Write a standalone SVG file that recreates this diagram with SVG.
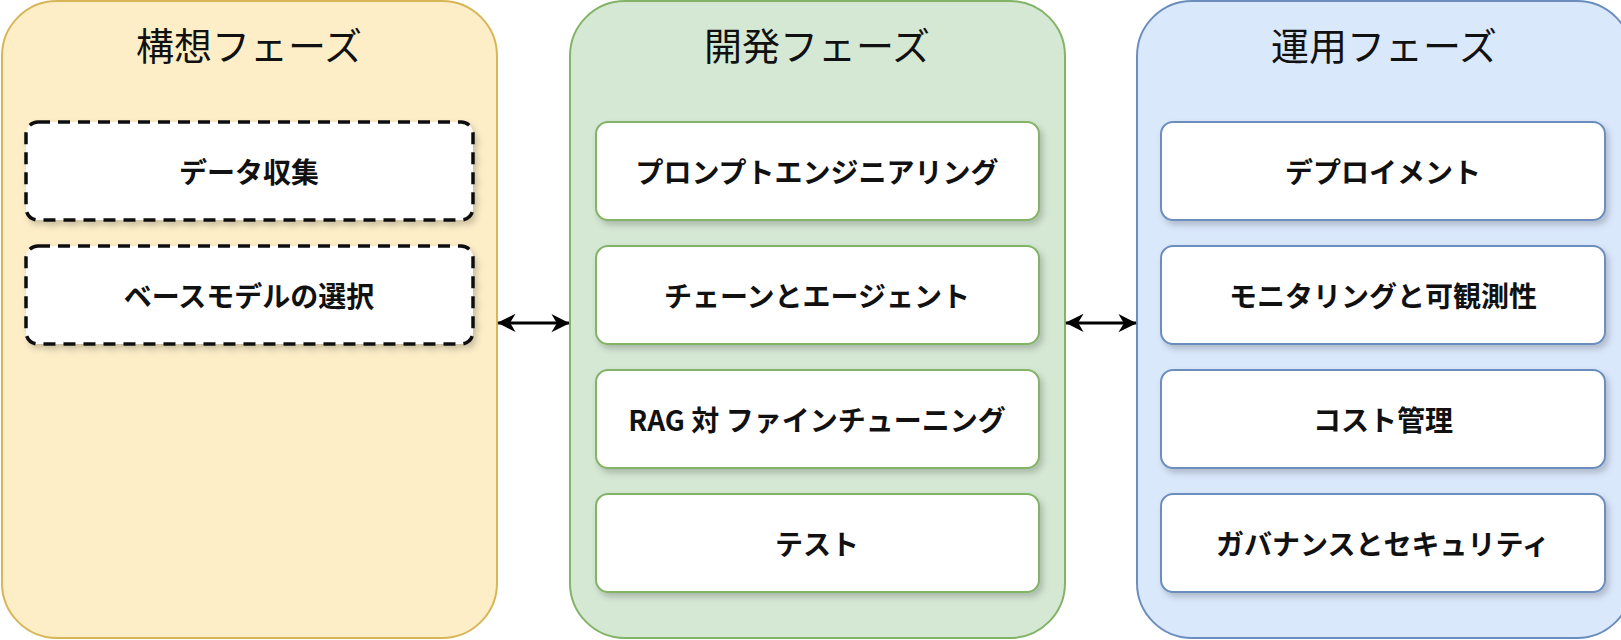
<svg xmlns="http://www.w3.org/2000/svg" width="1621" height="640" viewBox="0 0 1621 640">
<style>
text{font-family:"Noto Sans CJK JP","Liberation Sans",sans-serif;text-anchor:middle;dominant-baseline:central;fill:#111}
.t{font-size:38px}
.b{font-size:28px;font-weight:bold}
.box{fill:#fff;rx:12px;filter:url(#sh)}
.g{stroke:#82b366;stroke-width:2}
.bl{stroke:#6c8ebf;stroke-width:2}
.d{stroke:#111;stroke-width:3.5;stroke-dasharray:12 8}
.c{stroke:#000;stroke-width:3;fill:none;marker-start:url(#a);marker-end:url(#a)}
</style>
<defs>
<filter id="sh" x="-10%" y="-20%" width="130%" height="150%"><feDropShadow dx="3" dy="4" stdDeviation="3" flood-color="#000" flood-opacity="0.2"/></filter>
<marker id="a" viewBox="0 0 10 10" refX="10" refY="5" markerWidth="7" markerHeight="7" orient="auto-start-reverse" markerUnits="userSpaceOnUse" overflow="visible"><path d="M0,0 L10,5 L0,10 L3,5 Z" transform="scale(2.6) translate(-5.8,-3)" fill="#000"/></marker>
</defs>
<g id="phase1"><rect x="2" y="1" width="495" height="637" rx="55" fill="#fdeec8" stroke="#d6b656" stroke-width="2"/><text class="t" x="249" y="43">構想フェーズ</text></g>
<g id="phase2"><rect x="570" y="1" width="495" height="637" rx="55" fill="#d5e8d4" stroke="#82b366" stroke-width="2"/><text class="t" x="817" y="43">開発フェーズ</text></g>
<g id="phase3"><rect x="1137" y="1" width="495" height="637" rx="55" fill="#dae8fc" stroke="#6c8ebf" stroke-width="2"/><text class="t" x="1384" y="43">運用フェーズ</text></g>
<g id="n1"><rect class="box d" x="26" y="122" width="447" height="98"/><text class="b" x="249" y="171">データ収集</text></g>
<g id="n2"><rect class="box d" x="26" y="246" width="447" height="98"/><text class="b" x="249" y="295">ベースモデルの選択</text></g>
<g id="n3"><rect class="box g" x="596" y="122" width="443" height="98"/><text class="b" x="817" y="171">プロンプトエンジニアリング</text></g>
<g id="n4"><rect class="box g" x="596" y="246" width="443" height="98"/><text class="b" x="817" y="295">チェーンとエージェント</text></g>
<g id="n5"><rect class="box g" x="596" y="370" width="443" height="98"/><text class="b" x="817" y="419">RAG 対 ファインチューニング</text></g>
<g id="n6"><rect class="box g" x="596" y="494" width="443" height="98"/><text class="b" x="817" y="543">テスト</text></g>
<g id="n7"><rect class="box bl" x="1161" y="122" width="444" height="98"/><text class="b" x="1383" y="171">デプロイメント</text></g>
<g id="n8"><rect class="box bl" x="1161" y="246" width="444" height="98"/><text class="b" x="1383" y="295">モニタリングと可観測性</text></g>
<g id="n9"><rect class="box bl" x="1161" y="370" width="444" height="98"/><text class="b" x="1383" y="419">コスト管理</text></g>
<g id="n10"><rect class="box bl" x="1161" y="494" width="444" height="98"/><text class="b" x="1383" y="543">ガバナンスとセキュリティ</text></g>
<g id="connectors">
<line class="c" x1="498" y1="323" x2="569" y2="323"/>
<line class="c" x1="1066" y1="323" x2="1136" y2="323"/>
</g>
</svg>
